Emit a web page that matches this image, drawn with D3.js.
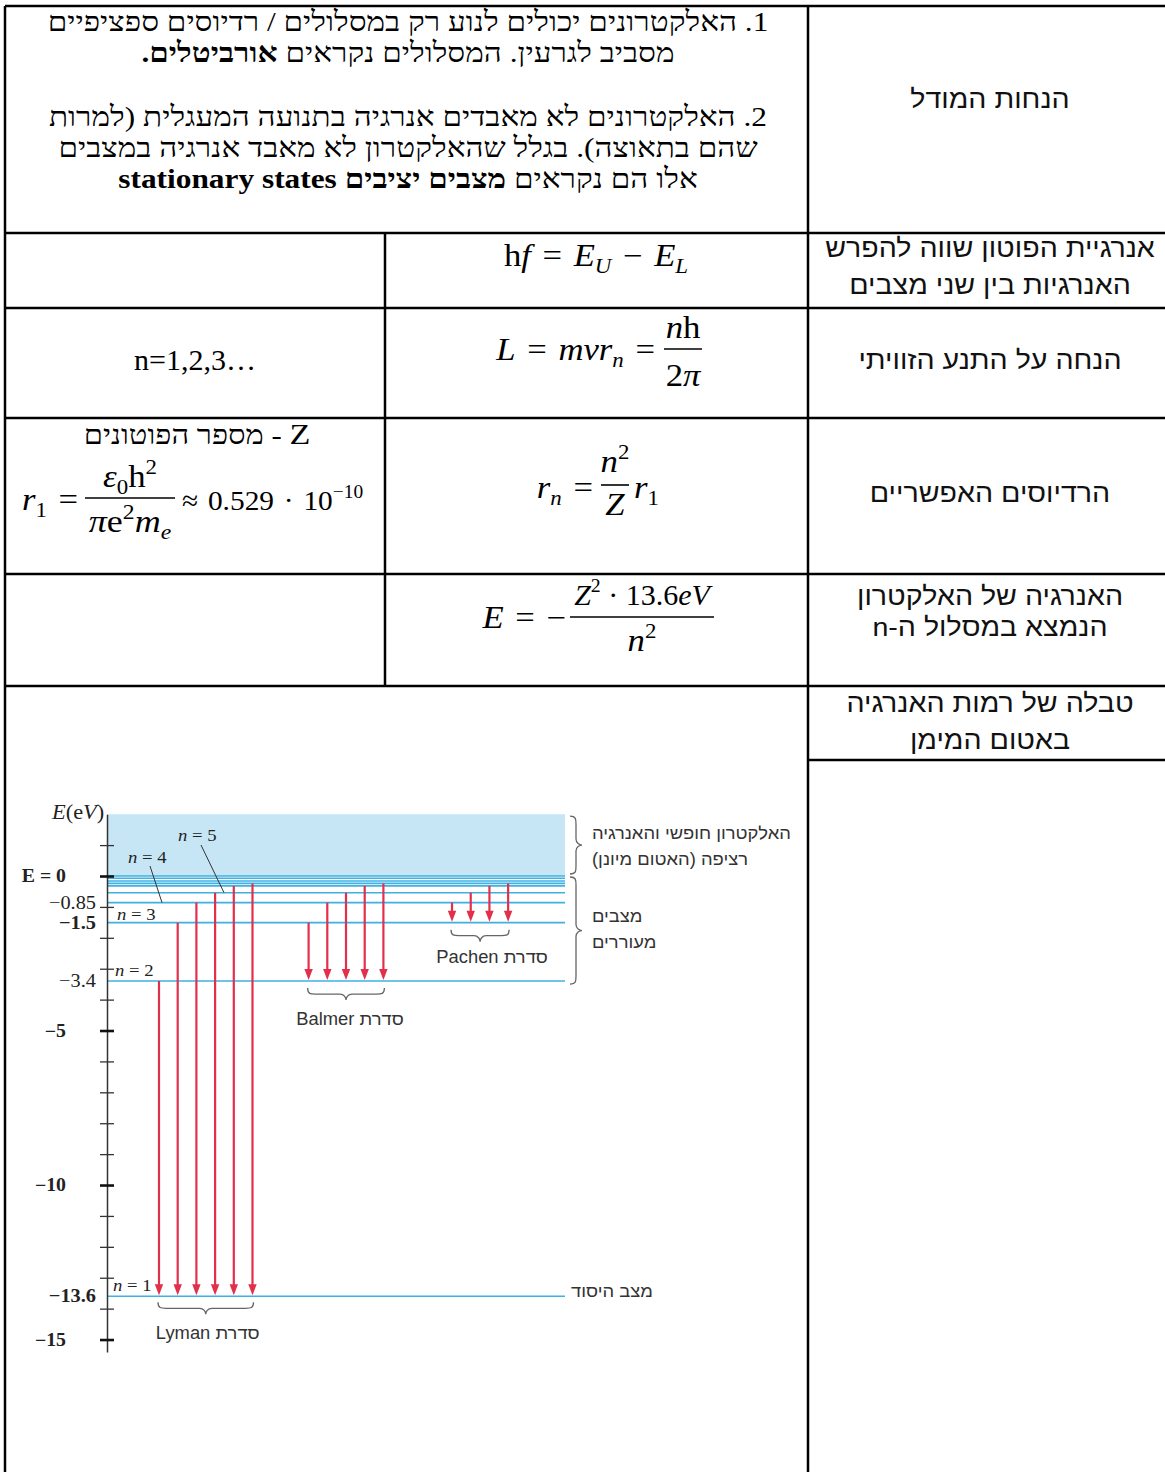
<!DOCTYPE html>
<html>
<head>
<meta charset="utf-8">
<script src="https://cdn.jsdelivr.net/npm/d3@7"></script>
<style>
  body { margin: 0; background: #fff; }
  svg text { white-space: pre; }
</style>
</head>
<body>
<div id="chart"></div>
<script>
// energy levels of hydrogen (eV), n = 1 .. and the continuum edge
var levelEnergy = [-13.6, -3.4, -1.51, -0.86, -0.54, -0.32, -0.24, -0.16, -0.075, 0];
var levelNames = ["n = 1", "n = 2", "n = 3", "n = 4", "n = 5"];
var tickValues = [1, 0, -1, -2, -3, -4, -5, -6, -7, -8, -9, -10, -11, -12, -13, -14, -15];
var majorTicks = [0, -5, -10, -15];
var majorLabels = ["E = 0", "−5", "−10", "−15"];
var levelTickLabels = ["−0.85", "−1.5", "−3.4", "−13.6"];
var levelTickValues = [-0.86, -1.51, -3.4, -13.6];

// transitions: upper levels for each series, lower level, first slot
var lymanFrom = [2, 3, 4, 5, 6, 7];
var balmerFrom = [3, 4, 5, 6, 7];
var paschenFrom = [4, 5, 6, 7];
var seriesFrom = [lymanFrom, balmerFrom, paschenFrom];
var seriesTo = [1, 2, 3];
var seriesSlot = [0, 8, 15.67];
var seriesNames = ["סדרת Lyman", "סדרת Balmer", "סדרת Pachen"];

var W = 1165, H = 1472;
var serif = "'Liberation Serif', 'Times New Roman', serif";
var sans = "'Liberation Sans', Arial, sans-serif";
var SP = "\u2004";

var svg = d3.select("#chart").append("svg")
  .attr("width", W)
  .attr("height", H);

function place(x, y, sx) {
  return "translate(" + x + "," + y + ") scale(" + sx + ",1)";
}

// ---------- table grid ----------
var grid = svg.append("g").attr("stroke", "#000").attr("stroke-width", 2.5);
var hLines = [[5, 1165, 6], [5, 1165, 233], [5, 1165, 308], [5, 1165, 418], [5, 1165, 574], [5, 1165, 686], [808, 1165, 760]];
var vLines = [[5, 6, 1472], [808, 6, 1472], [385, 233, 686]];
hLines.forEach(function(l) {
  grid.append("line").attr("x1", l[0]).attr("x2", l[1]).attr("y1", l[2]).attr("y2", l[2]);
});
vLines.forEach(function(l) {
  grid.append("line").attr("x1", l[0]).attr("x2", l[0]).attr("y1", l[1]).attr("y2", l[2]);
});

// ---------- hebrew text ----------
function rtlText(x, y, size, font, anchor, sx, parts) {
  var t = svg.append("text")
    .attr("transform", place(x, y, sx))
    .attr("direction", "rtl")
    .attr("text-anchor", anchor)
    .attr("font-family", font)
    .attr("font-size", size)
    .attr("fill", "#000");
  parts.forEach(function(p) {
    if (typeof p === "string") t.append("tspan").text(p);
    else t.append("tspan").attr("font-weight", "bold").text(p.b);
  });
  return t;
}

var topLines = [
  ["1. האלקטרונים יכולים לנוע רק במסלולים / רדיוסים ספציפיים"],
  ["מסביב לגרעין. המסלולים נקראים ", {b: "אורביטלים."}],
  ["2. האלקטרונים לא מאבדים אנרגיה בתנועה המעגלית (למרות"],
  ["שהם בתאוצה). בגלל שהאלקטרון לא מאבד אנרגיה במצבים"],
  ["אלו הם נקראים ", {b: "מצבים יציבים stationary states"}]
];
var topY = [31, 62, 126, 157, 188];
topLines.forEach(function(parts, i) {
  rtlText(408, topY[i], 28, serif, "middle", 1.12, parts);
});

var rightLabels = [
  ["הנחות המודל", 108],
  ["אנרגיית הפוטון שווה להפרש", 257],
  ["האנרגיות בין שני מצבים", 294],
  ["הנחה על התנע הזוויתי", 369],
  ["הרדיוסים האפשריים", 502],
  ["האנרגיה של האלקטרון", 605],
  ["הנמצא במסלול ה-n", 636],
  ["טבלה של רמות האנרגיה", 712],
  ["באטום המימן", 749]
];
rightLabels.forEach(function(d) {
  rtlText(990, d[1], 26, sans, "middle", 1.1, [d[0]]).attr("fill", "#111");
});

// ---------- formulas ----------
function math(x, y, anchor, size, parts, sx) {
  var t = svg.append("text")
    .attr("transform", place(x, y, sx || 1.12))
    .attr("text-anchor", anchor)
    .attr("font-family", serif)
    .attr("font-size", size)
    .attr("fill", "#000");
  var shift = 0;
  parts.forEach(function(p) {
    var target = p.sub ? size * 0.22 : p.sup ? -size * 0.42 : 0;
    t.append("tspan")
      .attr("dy", target - shift)
      .attr("font-size", (p.sub || p.sup) ? size * 0.66 : size)
      .attr("font-style", p.i ? "italic" : "normal")
      .text(p.t);
    shift = target;
  });
  return t;
}
function bar(x1, x2, y) {
  svg.append("line").attr("x1", x1).attr("x2", x2).attr("y1", y).attr("y2", y)
    .attr("stroke", "#000").attr("stroke-width", 1.6);
}

math(596, 266, "middle", 31, [
  {t: "h"}, {t: "f", i: 1}, {t: SP + "=" + SP}, {t: "E", i: 1}, {t: "U", i: 1, sub: 1},
  {t: SP + "−" + SP}, {t: "E", i: 1}, {t: "L", i: 1, sub: 1}
]);

math(195, 370, "middle", 30, [{t: "n=1,2,3…"}], 1);

math(655, 360, "end", 31, [
  {t: "L", i: 1}, {t: SP + "=" + SP}, {t: "mvr", i: 1}, {t: "n", i: 1, sub: 1}, {t: SP + "="}
]);
math(683, 338, "middle", 31, [{t: "n", i: 1}, {t: "h"}]);
bar(664, 702, 349);
math(683, 386, "middle", 31, [{t: "2"}, {t: "π", i: 1}]);

var zt = rtlText(197, 444, 27, serif, "middle", 1.14, []);
zt.append("tspan").attr("font-size", 30).text("Z");
zt.append("tspan").text(" - מספר הפוטונים");

math(22, 510, "start", 31, [{t: "r", i: 1}, {t: "1", sub: 1}, {t: SP + "="}]);
math(130, 487, "middle", 31, [{t: "ε", i: 1}, {t: "0", sub: 1}, {t: "h"}, {t: "2", sup: 1}]);
bar(85, 175, 498);
math(130, 532, "middle", 31, [{t: "π", i: 1}, {t: "e"}, {t: "2", sup: 1}, {t: "m", i: 1}, {t: "e", i: 1, sub: 1}], 1.16);
math(182, 510, "start", 28, [{t: "≈" + SP + "0.529" + SP + "·" + SP + "10"}, {t: "−10", sup: 1}], 1.05);

math(593, 498, "end", 31, [{t: "r", i: 1}, {t: "n", i: 1, sub: 1}, {t: SP + "="}]);
math(615, 472, "middle", 31, [{t: "n", i: 1}, {t: "2", sup: 1}]);
bar(601, 629, 485);
math(615, 515, "middle", 31, [{t: "Z", i: 1}]);
math(634, 498, "start", 31, [{t: "r", i: 1}, {t: "1", sub: 1}]);

math(566, 628, "end", 31, [{t: "E", i: 1}, {t: SP + "=" + SP + "−"}]);
math(642, 605, "middle", 30, [{t: "Z", i: 1}, {t: "2", sup: 1}, {t: " · 13.6"}, {t: "eV", i: 1}], 1);
bar(570, 714, 617);
math(642, 651, "middle", 31, [{t: "n", i: 1}, {t: "2", sup: 1}]);

// ---------- energy level diagram ----------
var y = d3.scaleLinear().domain([2, -15.4]).range([814.2, 1351.9]);
var slot = d3.scaleLinear().domain([0, 1]).range([159, 177.7]);
var axisX = 107, lineEnd = 565;
var blue = "#3fb0e2", red = "#e2304c";
var labSx = 1.1;

var dg = svg.append("g");

dg.append("rect")
  .attr("x", axisX).attr("y", y(2))
  .attr("width", lineEnd - axisX).attr("height", y(0) - y(2))
  .attr("fill", "#c6e6f6");

dg.selectAll("line.level")
  .data(levelEnergy)
  .enter().append("line")
  .attr("class", "level")
  .attr("x1", axisX).attr("x2", lineEnd)
  .attr("y1", function(d) { return y(d); })
  .attr("y2", function(d) { return y(d); })
  .attr("stroke", blue).attr("stroke-width", 1.6);

// arrows
var transitions = [];
seriesFrom.forEach(function(froms, s) {
  froms.forEach(function(n, k) {
    transitions.push({from: n, to: seriesTo[s], slot: seriesSlot[s] + k});
  });
});
var arrows = dg.selectAll("g.arrow")
  .data(transitions)
  .enter().append("g").attr("class", "arrow");
arrows.append("line")
  .attr("x1", function(d) { return slot(d.slot); })
  .attr("x2", function(d) { return slot(d.slot); })
  .attr("y1", function(d) { return y(levelEnergy[d.from - 1]); })
  .attr("y2", function(d) { return y(levelEnergy[d.to - 1]) - 8; })
  .attr("stroke", red).attr("stroke-width", 2.2);
arrows.append("path")
  .attr("d", function(d) {
    var x = slot(d.slot), yb = y(levelEnergy[d.to - 1]) - 1;
    return "M" + (x - 4.2) + "," + (yb - 11) + "L" + (x + 4.2) + "," + (yb - 11) + "L" + x + "," + yb + "Z";
  })
  .attr("fill", red);

// axis with ticks crossing the line
var ax = dg.append("g").attr("transform", "translate(" + axisX + ",0)");
ax.append("g")
  .call(d3.axisLeft(y).tickValues(tickValues).tickSizeInner(7).tickSizeOuter(0).tickFormat(""))
  .call(function(g) { g.select(".domain").attr("stroke", "#333").attr("stroke-width", 1.5); });
ax.append("g")
  .call(d3.axisRight(y).tickValues(tickValues).tickSizeInner(7).tickSizeOuter(0).tickFormat(""))
  .call(function(g) { g.select(".domain").remove(); });
ax.selectAll(".tick line").attr("stroke", "#333").attr("stroke-width", 1.3);
ax.selectAll(".tick").filter(function(d) { return majorTicks.indexOf(d) >= 0; })
  .select("line").attr("stroke-width", 2.6).attr("stroke", "#111");

dg.selectAll("text.major")
  .data(majorTicks)
  .enter().append("text")
  .attr("class", "major")
  .attr("transform", function(d) { return place(66, y(d) + 6, labSx); })
  .attr("text-anchor", "end")
  .attr("font-family", serif).attr("font-size", 18).attr("font-weight", "bold")
  .attr("fill", "#222")
  .text(function(d, i) { return majorLabels[i]; });

dg.selectAll("text.lvl")
  .data(levelTickValues)
  .enter().append("text")
  .attr("class", "lvl")
  .attr("transform", function(d) { return place(96, y(d) + 6, labSx); })
  .attr("text-anchor", "end")
  .attr("font-family", serif).attr("font-size", 18.5)
  .attr("font-weight", function(d, i) { return i % 2 ? "bold" : "normal"; })
  .attr("fill", "#222")
  .text(function(d, i) { return levelTickLabels[i]; });

var eLabel = dg.append("text").attr("transform", place(52, 819, 1.12))
  .attr("font-family", serif).attr("font-size", 20).attr("fill", "#222");
eLabel.append("tspan").attr("font-style", "italic").text("E");
eLabel.append("tspan").text("(e");
eLabel.append("tspan").attr("font-style", "italic").text("V");
eLabel.append("tspan").text(")");

// n labels
var nPos = [[113, -5], [115, -5], [117, -3], [128, null], [178, null]];
var nFixedY = [null, null, null, 863, 841];
dg.selectAll("text.nlab")
  .data(levelNames)
  .enter().append("text")
  .attr("class", "nlab")
  .attr("transform", function(d, i) {
    var yy = nFixedY[i] !== null ? nFixedY[i] : y(levelEnergy[i]) + nPos[i][1];
    return place(nPos[i][0], yy, labSx);
  })
  .attr("font-family", serif).attr("font-size", 17).attr("fill", "#222")
  .each(function(d) {
    d3.select(this).append("tspan").attr("font-style", "italic").text("n");
    d3.select(this).append("tspan").text(d.slice(1));
  });
dg.append("line").attr("x1", 150).attr("y1", 866).attr("x2", 162).attr("y2", y(levelEnergy[3]))
  .attr("stroke", "#333").attr("stroke-width", 1);
dg.append("line").attr("x1", 201).attr("y1", 845).attr("x2", 224).attr("y2", y(levelEnergy[4]))
  .attr("stroke", "#333").attr("stroke-width", 1);

// braces
function vbrace(x, y0, y1, w) {
  var m = (y0 + y1) / 2, c = x + w * 0.5;
  return "M" + x + "," + y0 + " C" + (c) + "," + y0 + " " + c + "," + (y0 + 3) + " " + c + "," + (y0 + 8) +
    " L" + c + "," + (m - 6) + " C" + c + "," + (m - 2) + " " + (x + w * 0.8) + "," + m + " " + (x + w) + "," + m +
    " C" + (x + w * 0.8) + "," + m + " " + c + "," + (m + 2) + " " + c + "," + (m + 6) +
    " L" + c + "," + (y1 - 8) + " C" + c + "," + (y1 - 3) + " " + c + "," + y1 + " " + x + "," + y1;
}
function hbrace(x0, x1, yy, h) {
  var m = (x0 + x1) / 2, c = yy + h * 0.5;
  return "M" + x0 + "," + yy + " C" + x0 + "," + c + " " + (x0 + 3) + "," + c + " " + (x0 + 8) + "," + c +
    " L" + (m - 6) + "," + c + " C" + (m - 2) + "," + c + " " + m + "," + (yy + h * 0.8) + " " + m + "," + (yy + h) +
    " C" + m + "," + (yy + h * 0.8) + " " + (m + 2) + "," + c + " " + (m + 6) + "," + c +
    " L" + (x1 - 8) + "," + c + " C" + (x1 - 3) + "," + c + " " + x1 + "," + c + " " + x1 + "," + yy;
}
var braceStyle = function(p) { p.attr("fill", "none").attr("stroke", "#666").attr("stroke-width", 1.3); };
dg.append("path").attr("d", vbrace(570, y(2) + 2, y(0) - 2, 12)).call(braceStyle);
dg.append("path").attr("d", vbrace(570, y(0) + 1, y(levelEnergy[1]) + 3, 12)).call(braceStyle);

var braceTop = [y(levelEnergy[0]) + 6, y(levelEnergy[1]) + 7, y(levelEnergy[2]) + 7];
var braceLabelY = [y(levelEnergy[0]) + 43, y(levelEnergy[1]) + 44, y(levelEnergy[2]) + 40];
var braceLabelShift = [2, 4, 12];
seriesFrom.forEach(function(froms, s) {
  var x0 = slot(seriesSlot[s]) - 1, x1 = slot(seriesSlot[s] + froms.length - 1) + 1;
  dg.append("path").attr("d", hbrace(x0, x1, braceTop[s], 12)).call(braceStyle);
  dg.append("text")
    .attr("transform", place((x0 + x1) / 2 + braceLabelShift[s], braceLabelY[s], 1.05))
    .attr("direction", "rtl").attr("text-anchor", "middle")
    .attr("font-family", sans).attr("font-size", 17.5).attr("fill", "#333")
    .text(seriesNames[s]);
});

// side labels
var sideLabels = [
  ["האלקטרון חופשי והאנרגיה", 592, 839],
  ["רציפה (האטום מיונן)", 592, 865],
  ["מצבים", 592, 922],
  ["מעוררים", 592, 948],
  ["מצב היסוד", 571, 1297]
];
sideLabels.forEach(function(d) {
  dg.append("text")
    .attr("transform", place(d[1], d[2], 1.05))
    .attr("direction", "rtl").attr("text-anchor", "end")
    .attr("font-family", sans).attr("font-size", 17.5).attr("fill", "#333")
    .text(d[0]);
});
</script>
</body>
</html>
